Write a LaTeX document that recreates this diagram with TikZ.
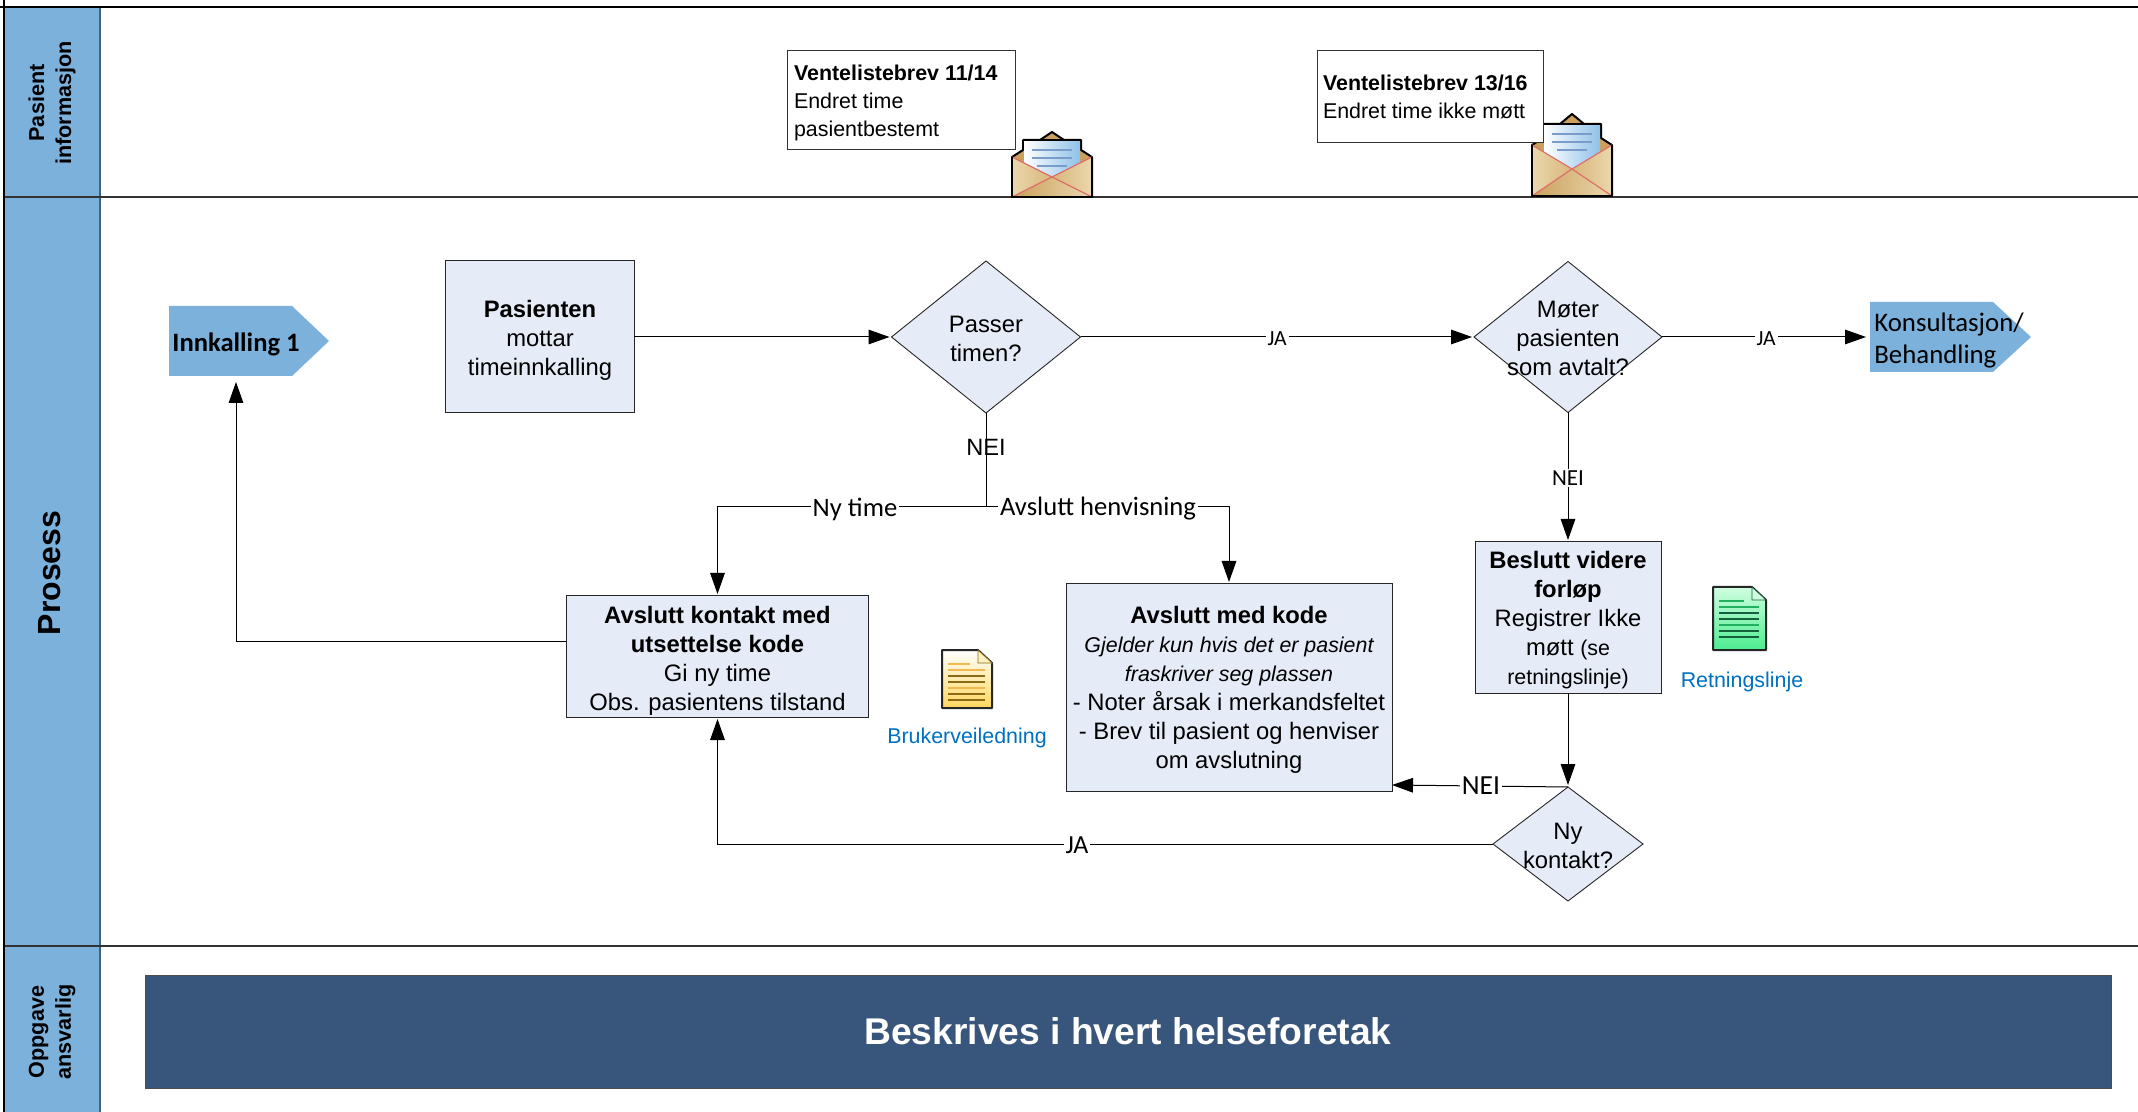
\documentclass[tikz,border=0pt]{standalone}
\usepackage{fontspec}
\setmainfont{Liberation Sans}
\newfontfamily\calfont{Carlito}
\usetikzlibrary{arrows.meta,shapes.geometric}
\definecolor{lanec}{HTML}{7CB1DC}
\definecolor{laneedge}{HTML}{3F6282}
\definecolor{boxc}{HTML}{E6ECF7}
\definecolor{banner}{HTML}{38567B}
\definecolor{linkc}{HTML}{0070C0}
\definecolor{tanL}{HTML}{EAD7AE}
\definecolor{tanM}{HTML}{D8B67A}
\definecolor{tanD}{HTML}{CBA05C}
\definecolor{paperB}{HTML}{8FC0E8}
\definecolor{paperL}{HTML}{7A9CCB}
\definecolor{redl}{HTML}{DD7068}
\definecolor{yelD}{HTML}{FFD75E}
\definecolor{yelF}{HTML}{FFF0C0}
\definecolor{yelR}{HTML}{8A6A14}
\definecolor{yelS}{HTML}{F4B850}
\definecolor{grnT}{HTML}{D0FFE0}
\definecolor{grnD}{HTML}{4CEC90}
\definecolor{grnF}{HTML}{D0FFE0}
\definecolor{grnR}{HTML}{14603C}
\definecolor{grnS}{HTML}{20B060}
\newcommand{\fs}[2]{\fontsize{#1}{#2}\selectfont}
\tikzset{
  x=0.5pt,y=-0.5pt,
  procbox/.style={draw=black!85,line width=0.5pt,fill=boxc,inner sep=0pt,outer sep=0pt},
  decis/.style={shape=diamond,draw=black!85,line width=0.45pt,fill=boxc,inner sep=0pt,outer sep=0pt},
  txt/.style={inner sep=0pt,outer sep=0pt,align=center,font=\fs{11.9}{14.5}},
  notebox/.style={draw=black!80,line width=0.5pt,fill=white,inner sep=0pt,outer sep=0pt},
  notetxt/.style={inner sep=0pt,outer sep=0pt,align=left,font=\fs{10.7}{14}},
  conn/.style={draw=black,line width=0.5pt},
  arr/.style={conn,-{Triangle[length=10.5pt,width=7.3pt]},shorten >=1pt},
  edgelab/.style={fill=white,inner sep=1pt,outer sep=0pt,font=\calfont\fs{13.3}{14}},
  calab/.style={fill=white,inner sep=1pt,outer sep=0pt,font=\calfont\fs{11.5}{12}},
  lanelab/.style={rotate=90,inner sep=0pt,outer sep=0pt,align=center,font=\bfseries\fs{10.8}{13.5}},
  linklab/.style={inner sep=0pt,outer sep=0pt,text=linkc,font=\fs{10.7}{12}},
}
% cx, top, papertop, shoulder, vy, bottom
\newcommand{\envl}[6]{
  \fill[tanD,draw=black,line width=1pt,line join=round] (#1-40,#4) -- (#1-29,#4-7) -- (#1-29,#3) -- (#1-12,#3) -- (#1,#2) -- (#1+12,#3) -- (#1+29,#3) -- (#1+29,#4-7) -- (#1+40,#4) -- (#1+40,#6) -- (#1-40,#6) -- cycle;
  \shade[left color=white,right color=paperB,draw=none] (#1-28,#3) -- (#1+28,#3) -- (#1+28,#5) -- (#1-28,#5) -- cycle;
  \draw[black,line width=0.8pt] (#1-29,#3) -- (#1+29,#3);
  \draw[paperL,line width=0.6pt] (#1-20,#3+10) -- (#1+20,#3+10) (#1-20,#3+18) -- (#1+20,#3+18) (#1-15,#3+26) -- (#1+15,#3+26);
  \shade[left color=tanL,right color=tanM,draw=none] (#1-40,#4) -- (#1,#5) -- (#1,#6) -- (#1-40,#6) -- cycle;
  \shade[left color=tanM,right color=tanL,draw=none] (#1+40,#4) -- (#1,#5) -- (#1,#6) -- (#1+40,#6) -- cycle;
  \shade[left color=tanD,right color=tanL,draw=none] (#1-40,#6) -- (#1,#5) -- (#1+40,#6) -- cycle;
  \draw[redl,line width=0.6pt] (#1-40,#4) -- (#1,#5) -- (#1+40,#6) (#1-40,#6) -- (#1,#5) -- (#1+40,#4);
  \draw[black,line width=1pt,line join=round] (#1-40,#4) -- (#1-40,#6) -- (#1+40,#6) -- (#1+40,#4);
}
% left, top, right, bottom, light, dark, foldfill, darkrule, lightrule
\newcommand{\docic}[9]{
  \shade[shading angle=45,top color=#5,bottom color=#6,draw=black!85,line width=1pt,line join=round] (#1,#2) -- (#3-14,#2) -- (#3,#2+13) -- (#3,#4) -- (#1,#4) -- cycle;
  \fill[#7,draw=#8,line width=0.3pt] (#3-14,#2) -- (#3,#2+13) -- (#3-14,#2+13) -- cycle;
  \draw[#9,line width=0.6pt] (#1+6,#2+14) -- (#3-22,#2+14) (#1+6,#2+20) -- (#3-7,#2+20) (#1+6,#2+38) -- (#3-7,#2+38);
  \draw[#8,line width=0.6pt] (#1+6,#2+26) -- (#3-7,#2+26) (#1+6,#2+32) -- (#3-7,#2+32) (#1+6,#2+44) -- (#3-7,#2+44) (#1+6,#2+50) -- (#3-7,#2+50);
}
\begin{document}
\begin{tikzpicture}
\useasboundingbox (0,0) rectangle (2138,1112);
% lanes
\fill[lanec] (4,7) rectangle (100,1112);
\draw[laneedge,line width=0.9pt] (100,7) -- (100,1112);
\draw[black!80,line width=0.8pt] (4,197) -- (2138,197) (4,946) -- (2138,946);
\draw[black,line width=1.4pt] (0,7) -- (2138,7);
\draw[black,line width=1.4pt] (4,0) -- (4,1112);
\node[lanelab] (laneA) at (52,103) {Pasient\\informasjon};
\node[lanelab,font=\bfseries\fs{16}{20}] (laneB) at (50,573) {Prosess};
\node[lanelab] (laneC) at (52,1032) {Oppgave\\ansvarlig};
% envelopes and notes
\envl{1052}{132}{140}{157}{177}{197}
\envl{1572}{114}{124}{145}{169}{196}
\node[notebox,minimum width=114pt,minimum height=49.5pt] (noteA) at (901,100.5) {};
\node[notetxt,anchor=west] (noteAt) at (794,103) {\textbf{Ventelistebrev 11/14}\\Endret time\\pasientbestemt};
\node[notebox,minimum width=113pt,minimum height=46pt] (noteB) at (1430,97) {};
\node[notetxt,anchor=west] (noteBt) at (1323,97) {\textbf{Ventelistebrev 13/16}\\Endret time ikke møtt};
% arrow shapes
\fill[lanec] (169,306) -- (292,306) -- (329,341) -- (292,376) -- (169,376) -- cycle;
\node[inner sep=0pt,anchor=west,font=\calfont\bfseries\fs{13.3}{15}] (inn) at (172,344) {Innkalling 1};
\coordinate (innB) at (236,376);
\fill[lanec] (1870,302) -- (1993,302) -- (2031,337) -- (1993,372) -- (1870,372) -- cycle;
\node[inner sep=0pt,anchor=west,align=left,font=\calfont\fs{13.4}{16}] (kons) at (1874,341) {Konsultasjon/\\Behandling};
\coordinate (konsW) at (1868,337);
% boxes
\node[procbox,minimum width=94.5pt,minimum height=76pt] (pas) at (539.5,337) {};
\node[txt] (past) at (540,340) {\textbf{Pasienten}\\mottar\\timeinnkalling};
\node[decis,minimum width=94.5pt,minimum height=76pt] (d1) at (986,337) {};
\node[txt] (d1t) at (986,339) {Passer\\timen?};
\node[decis,minimum width=94pt,minimum height=75.5pt] (d2) at (1568,337) {};
\node[txt] (d2t) at (1568,338) {Møter\\pasienten\\som avtalt?};
\node[procbox,minimum width=151pt,minimum height=60.5pt] (ak) at (717.5,656.5) {};
\node[txt] (akt) at (717.5,661) {\textbf{Avslutt kontakt med}\\\textbf{utsettelse kode}\\Gi ny time\\Obs. pasientens tilstand};
\node[procbox,minimum width=163pt,minimum height=103.5pt] (am) at (1229,687.5) {};
\node[txt] (amt) at (1229,690) {\textbf{Avslutt med kode}\\{\itshape\fs{10.7}{14.5}Gjelder kun hvis det er pasient}\\{\itshape\fs{10.7}{14.5}fraskriver seg plassen}\\- Noter årsak i merkandsfeltet\\- Brev til pasient og henviser\\om avslutning};
\node[procbox,minimum width=93pt,minimum height=75.5pt] (bv) at (1568,617.5) {};
\node[txt] (bvt) at (1568,620.5) {\textbf{Beslutt videre}\\\textbf{forløp}\\Registrer Ikke\\møtt {\fs{10.7}{14.5}(se}\\{\fs{10.7}{14.5}retningslinje)}};
\node[decis,minimum width=75pt,minimum height=57pt] (d3) at (1568,844) {};
\node[txt] (d3t) at (1568,846) {Ny\\kontakt?};
% helper icons
\docic{942}{650}{992}{708}{white}{yelD}{yelF}{yelR}{yelS}
\node[linklab] (bru) at (967,738) {Brukerveiledning};
\docic{1713}{587}{1766}{650}{grnT}{grnD}{grnF}{grnR}{grnS}
\node[linklab] (ret) at (1742,682) {Retningslinje};
% connectors
\coordinate (akW) at (566,642);
\coordinate (amE) at (1392,785);
\draw[arr] (pas.east) -- (d1.west);
\draw[arr] (d1.east) -- (d2.west);
\draw[arr] (d2.east) -- (konsW);
\draw[arr] (d2.south) -- (bv.north);
\draw[conn] (d1.south) -- (986,507) coordinate (split);
\draw[arr] (split) -| (ak.north);
\draw[arr] (split) -| (am.north);
\draw[arr,shorten >=3pt] (akW) -| (innB);
\draw[arr] (bv.south) -- (d3.north);
\draw[conn,-{Triangle[length=10.5pt,width=7.3pt]}] (d3.north) -- (amE);
\draw[arr] (d3.west) -| (ak.south);
% connector labels
\node[calab,font=\calfont\fs{10.8}{12}] (l1) at (1277,339) {JA};
\node[calab,font=\calfont\fs{10.8}{12}] (l2) at (1766,339) {JA};
\node[inner sep=0pt,outer sep=0pt,font=\fs{11.8}{12}] (l3) at (986,447) {NEI};
\node[edgelab] (l4) at (855,509) {Ny time};
\node[edgelab] (l5) at (1098,509) {Avslutt henvisning};
\node[calab] (l6) at (1568,478) {NEI};
\node[calab,font=\calfont\fs{13.8}{14}] (l7) at (1481,786) {NEI};
\node[calab,font=\calfont\fs{13}{14}] (l8) at (1077,845) {JA};
% banner
\node[draw=black!70,line width=0.4pt,fill=banner,text=white,inner sep=0pt,outer sep=0pt,minimum width=983pt,minimum height=56.5pt,font=\bfseries\fs{18.6}{20}] (ban) at (1128,1031.5) {Beskrives i hvert helseforetak};
\end{tikzpicture}
\end{document}
